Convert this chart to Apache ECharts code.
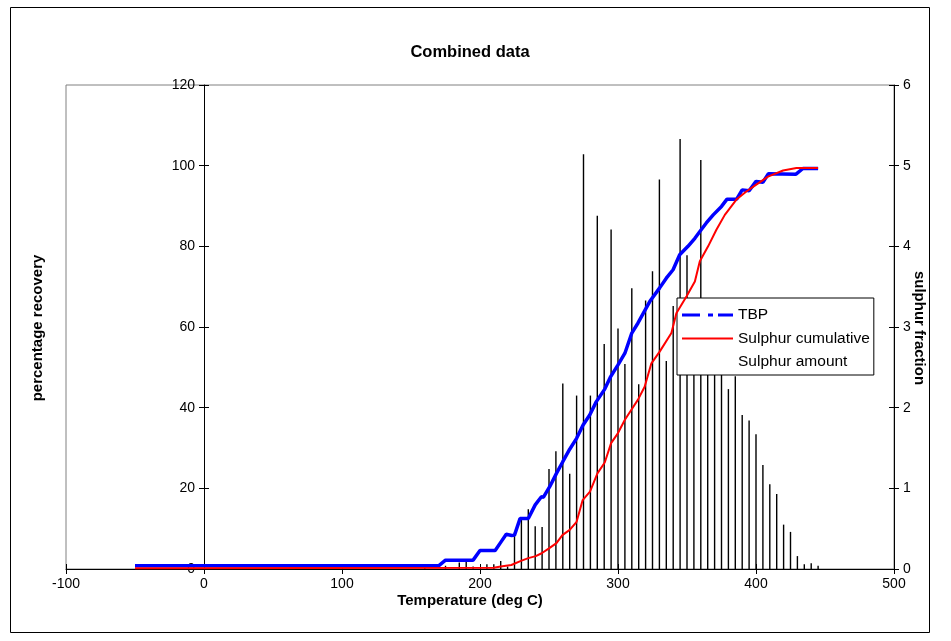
<!DOCTYPE html>
<html><head><meta charset="utf-8">
<script src="https://cdn.jsdelivr.net/npm/echarts@6/dist/echarts.min.js"></script>
<style>html,body{margin:0;padding:0;background:#fff}#c{width:951px;height:641px}</style>
</head><body><div id="c"></div>
<script>
const FONT = '"Liberation Sans", Arial, sans-serif';
const chartTitle = 'Combined data';
const xTitle = 'Temperature (deg C)';
const leftTitle = 'percentage recovery';
const rightTitle = 'sulphur fraction';
const seriesNames = ['TBP', 'Sulphur cumulative', 'Sulphur amount'];

// TBP curve (deg C, % recovered)
const tbpTemp = [-50, 170, 175, 195, 200, 211, 215, 219, 223, 225, 229, 235, 240, 244.5, 246, 250.5, 255.4, 260, 265, 270, 274.7, 279.5, 284.3, 290.4, 294.7, 300, 305, 310, 314.5, 323, 330.2, 335, 339.9, 344.7, 350.7, 355.7, 360, 364, 369, 375, 379, 386, 390, 395, 400, 405, 409, 429, 434, 445];
const tbpPct  = [0.8, 0.8, 2.2, 2.2, 4.6, 4.6, 6.6, 8.6, 8.3, 8.4, 12.5, 12.5, 15.9, 17.9, 17.8, 20.4, 23.7, 26.6, 29.7, 32.4, 35.7, 38.2, 41.5, 44.6, 47.7, 50.6, 53.5, 58.5, 61, 66.3, 69.7, 72.1, 74.2, 77.9, 80, 82, 84, 85.8, 87.8, 89.9, 91.7, 91.7, 94, 93.8, 96.1, 95.9, 98, 97.9, 99.3, 99.3];

// Sulphur cumulative (deg C, %)
const sulTemp = [-50, 210, 215, 222.7, 229.7, 235, 240.4, 244.7, 250, 255.4, 259.7, 265, 270, 274.4, 279.7, 285.1, 290.4, 295, 300, 305, 309.7, 314.5, 319.3, 324.2, 330.2, 338.7, 342.3, 349.7, 355.7, 359.3, 365.3, 371.3, 377.4, 385.8, 393, 400.2, 408.7, 419.6, 429.3, 445];
const sulPct  = [0.2, 0.3, 0.6, 1.0, 2.0, 2.7, 3.2, 3.9, 5.1, 6.4, 8.4, 9.7, 11.7, 17.1, 19.2, 23.7, 26.4, 31.2, 33.7, 37, 39.5, 42, 45.2, 51, 53.9, 58.5, 63.4, 67.6, 71.3, 76.3, 80, 84.1, 87.8, 91.6, 93.6, 95.3, 97.3, 98.8, 99.4, 99.4];

// Sulphur amount bars (deg C, fraction)
const barTemp = [160, 175, 185, 190, 195, 205, 210, 215, 220, 225, 230, 235, 240, 245, 250, 255, 260, 265, 270, 275, 280, 285, 290, 295, 300, 305, 310, 315, 320, 325, 330, 335, 340, 345, 350, 355, 360, 365, 370, 375, 380, 385, 390, 395, 400, 405, 410, 415, 420, 425, 430, 435, 440, 445];
const barFrac = [0.03, 0.04, 0.08, 0.09, 0.03, 0.06, 0.06, 0.10, 0.03, 0.45, 0.64, 0.74, 0.53, 0.52, 1.24, 1.46, 2.30, 1.18, 2.15, 5.14, 2.15, 4.38, 2.79, 4.21, 2.98, 2.54, 3.48, 2.29, 3.33, 3.69, 4.83, 2.58, 3.26, 5.33, 3.89, 3.1, 5.07, 3.0, 2.8, 2.6, 2.23, 2.39, 1.91, 1.84, 1.67, 1.29, 1.05, 0.93, 0.55, 0.46, 0.16, 0.06, 0.07, 0.04];

const xRange = {min: -100, max: 500, step: 100};
const leftRange = {min: 0, max: 120, step: 20};
const rightRange = {min: 0, max: 6, step: 1};

const zip = (a, b) => a.map((v, i) => [v, b[i]]);

const GRID = {left: 66, right: 57, top: 85, bottom: 72};
const plotW = 951 - GRID.left - GRID.right;
const zeroOffset = -plotW * (0 - xRange.min) / (xRange.max - xRange.min);

const labelStyle = {color: '#000', fontFamily: FONT, fontSize: 14};

function xAx(primary) {
  return {
    type: 'value', min: xRange.min, max: xRange.max, interval: xRange.step,
    position: 'bottom',
    axisLine: {show: primary, onZero: false, lineStyle: {color: '#000', width: 1}},
    axisTick: {show: true, inside: !primary, length: 5, lineStyle: {color: '#000', width: 1}},
    axisLabel: Object.assign({show: primary, margin: 8}, labelStyle),
    splitLine: {show: false}
  };
}
function yAx(r, pos, primary) {
  const ax = {
    type: 'value', min: r.min, max: r.max, interval: r.step, position: pos,
    axisLine: {show: primary, onZero: false, lineStyle: {color: '#000', width: 1}},
    axisTick: {show: true, inside: !primary, length: 5, lineStyle: {color: '#000', width: 1}},
    axisLabel: Object.assign({show: primary, margin: 9}, labelStyle),
    splitLine: {show: false}
  };
  if (pos === 'left') ax.offset = zeroOffset;
  return ax;
}

const chart = echarts.init(document.getElementById('c'), null, {renderer: 'canvas'});
chart.setOption({
  animation: false,
  backgroundColor: '#fff',
  grid: {left: GRID.left, right: GRID.right, top: GRID.top, bottom: GRID.bottom, show: true, borderColor: '#808080', borderWidth: 1, backgroundColor: '#fff'},
  xAxis: [xAx(true), xAx(false)],
  yAxis: [yAx(leftRange, 'left', true), yAx(rightRange, 'right', true), yAx(leftRange, 'left', false), yAx(rightRange, 'right', false)],
  legend: {
    orient: 'vertical', left: 677, top: 298,
    backgroundColor: '#fff', borderColor: '#000', borderWidth: 1,
    padding: [9, 4, 5, 5], itemGap: 7.5, itemWidth: 51, itemHeight: 3,
    itemStyle: {borderWidth: 0},
    textStyle: {color: '#000', fontFamily: FONT, fontSize: 15.5},
    selectedMode: false,
    data: [
      {name: seriesNames[0], icon: 'path://M0,0h18v3h-18z M26,0h5v3h-5z M36,0h15v3h-15z'},
      {name: seriesNames[1], icon: 'path://M0,0h51v2h-51z'},
      {name: seriesNames[2], icon: 'path://M0,0h51v2h-51z', itemStyle: {color: 'rgba(0,0,0,0)', borderWidth: 0}}
    ]
  },
  series: [
    {name: seriesNames[2], type: 'bar', xAxisIndex: 0, yAxisIndex: 1, barWidth: 1.4, z: 2,
     itemStyle: {color: '#000'}, data: zip(barTemp, barFrac)},
    {name: seriesNames[0], type: 'line', xAxisIndex: 0, yAxisIndex: 0, symbol: 'none', z: 3,
     itemStyle: {color: '#0000ff'}, lineStyle: {color: '#0000ff', width: 3.5}, data: zip(tbpTemp, tbpPct)},
    {name: seriesNames[1], type: 'line', xAxisIndex: 0, yAxisIndex: 0, symbol: 'none', z: 4,
     itemStyle: {color: '#ff0000'}, lineStyle: {color: '#ff0000', width: 2}, data: zip(sulTemp, sulPct)}
  ],
  graphic: [
    {type: 'rect', z: -10, silent: true, shape: {x: 10.5, y: 7.5, width: 919, height: 625}, style: {fill: 'none', stroke: '#000', lineWidth: 1}},
    {type: 'text', x: 470, y: 52, style: {text: chartTitle, font: 'bold 16.5px ' + FONT, fill: '#000', align: 'center', verticalAlign: 'middle'}},
    {type: 'text', x: 470, y: 601, style: {text: xTitle, font: 'bold 15px ' + FONT, fill: '#000', align: 'center', verticalAlign: 'middle'}},
    {type: 'text', x: 38, y: 328, rotation: Math.PI / 2, style: {text: leftTitle, font: 'bold 15px ' + FONT, fill: '#000', align: 'center', verticalAlign: 'middle'}},
    {type: 'text', x: 919, y: 328, rotation: -Math.PI / 2, style: {text: rightTitle, font: 'bold 15px ' + FONT, fill: '#000', align: 'center', verticalAlign: 'middle'}}
  ]
});
</script></body></html>
